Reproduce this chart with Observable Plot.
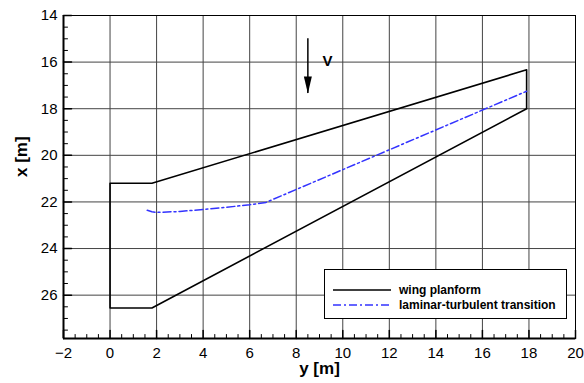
<!DOCTYPE html>
<html>
<head>
<meta charset="utf-8">
<script src="https://cdn.jsdelivr.net/npm/d3@7"></script>
<script src="https://cdn.jsdelivr.net/npm/@observablehq/plot@0.6"></script>
<style>
  html, body { margin: 0; padding: 0; background: #fff; }
  #wrap { position: relative; width: 584px; height: 383px; font-family: "Liberation Sans", Arial, sans-serif; }
  #legend { position: absolute; left: 324px; top: 269px; width: 241px; height: 48px; border: 1px solid #000; background: #fff; box-sizing: content-box; }
  #legend .row { position: absolute; left: 0; height: 14px; display: flex; align-items: center; }
  #legend .row span { font-weight: bold; font-size: 12px; color: #000; margin-left: 8px; white-space: nowrap; }
</style>
</head>
<body>
<div id="wrap"><div id="chart"></div><div id="legend"></div></div>
<script>
// Axis ticks
const xMajor = [-2, 0, 2, 4, 6, 8, 10, 12, 14, 16, 18, 20];
const yMajor = [14, 16, 18, 20, 22, 24, 26];
const xMinor = d3.range(-2, 20.01, 0.5).filter(v => v % 2 !== 0);
const yMinor = d3.range(14, 27.86, 0.5).filter(v => v % 2 !== 0);
const xDomain = [-2, 20];
const yDomain = [14, 27.86];
const xTitle = "y [m]";
const yTitle = "x [m]";

// Wing planform outline (span y [m], chord x [m])
const planformY = [0, 1.8, 17.9, 17.9, 1.8, 0, 0];
const planformX = [21.2, 21.2, 16.33, 18.0, 26.55, 26.55, 21.2];

// Laminar-turbulent transition line
const transY = [1.6, 1.8, 2.0, 3.0, 4.0, 5.0, 6.0, 6.7, 17.9];
const transX = [22.36, 22.42, 22.45, 22.41, 22.32, 22.23, 22.12, 22.02, 17.25];

// Flow direction annotation
const arrowV = [{y: 8.5, x1: 15.0, x2: 17.35}];
const vLabel = [{y: 9.34, x: 15.96, text: "V"}];

// Legend
const legendItems = [
  {label: "wing planform", color: "#000", dash: null},
  {label: "laminar-turbulent transition", color: "#3333ff", dash: "8,3,2,3"}
];

const planform = planformY.map((y, i) => ({y, x: planformX[i]}));
const transition = transY.map((y, i) => ({y, x: transX[i]}));

const tickShape = {draw(context, l) { context.moveTo(0, 0); context.lineTo(0, -l); }};
const headSymbol = {draw(context) { context.moveTo(0, 0); context.lineTo(-4, -17); context.lineTo(4, -17); context.closePath(); }};

const chart = Plot.plot({
  width: 584,
  height: 383,
  marginLeft: 63,
  marginRight: 9,
  marginTop: 15,
  marginBottom: 45,
  x: {domain: xDomain},
  y: {domain: yDomain, reverse: true},
  style: {fontFamily: "'Liberation Sans', Arial, sans-serif", background: "#fff", color: "#000"},
  marks: [
    Plot.gridX(xMajor, {stroke: "#444", strokeOpacity: 1, strokeWidth: 1}),
    Plot.gridY(yMajor, {stroke: "#444", strokeOpacity: 1, strokeWidth: 1}),
    Plot.line(planform, {x: "y", y: "x", stroke: "#000", strokeWidth: 1.6}),
    Plot.line(transition, {x: "y", y: "x", stroke: "#3333ff", strokeWidth: 1.5, strokeDasharray: "8,3,2,3", curve: "linear"}),
    Plot.ruleX(arrowV, {x: "y", y1: "x1", y2: "x2", stroke: "#000", strokeWidth: 1.5}),
    Plot.dot(arrowV, {x: "y", y: "x2", symbol: headSymbol, fill: "#000", stroke: null}),
    Plot.text(vLabel, {x: "y", y: "x", text: "text", fontSize: 15, fontWeight: "bold", fill: "#000"}),
    // minor and major ticks (inward)
    Plot.vector(xMinor, {x: d => d, frameAnchor: "bottom", length: 4, anchor: "start", rotate: 0, shape: tickShape, stroke: "#000", strokeWidth: 1}),
    Plot.vector(xMajor, {x: d => d, frameAnchor: "bottom", length: 8, anchor: "start", rotate: 0, shape: tickShape, stroke: "#000", strokeWidth: 1.5}),
    Plot.vector(yMinor, {y: d => d, frameAnchor: "left", length: 4, anchor: "start", rotate: 90, shape: tickShape, stroke: "#000", strokeWidth: 1}),
    Plot.vector(yMajor, {y: d => d, frameAnchor: "left", length: 8, anchor: "start", rotate: 90, shape: tickShape, stroke: "#000", strokeWidth: 1.5}),
    Plot.frame({stroke: "#000", strokeWidth: 1}),
    Plot.ruleX([xDomain[0]], {stroke: "#000", strokeWidth: 2}),
    Plot.ruleY([yDomain[1]], {stroke: "#000", strokeWidth: 2}),
    Plot.axisX(xMajor, {tickSize: 0, tickPadding: 9, fontSize: 15, label: null}),
    Plot.axisY(yMajor, {tickSize: 0, tickPadding: 6, fontSize: 15, label: null}),
    Plot.text([xTitle], {frameAnchor: "bottom", dy: 35, text: d => d, fontSize: 17, fontWeight: "bold", fill: "#000"}),
    Plot.text([yTitle], {frameAnchor: "left", dx: -42, rotate: -90, text: d => d, fontSize: 17, fontWeight: "bold", fill: "#000"})
  ]
});
document.getElementById("chart").appendChild(chart);

// Legend
const legend = d3.select("#legend");
legendItems.forEach((item, i) => {
  const row = legend.append("div").attr("class", "row").style("top", (13 + i * 14.5) + "px").style("left", "8px");
  const svg = row.append("svg").attr("width", 58).attr("height", 6);
  svg.append("line").attr("x1", 0).attr("x2", 58).attr("y1", 3).attr("y2", 3)
    .attr("stroke", item.color).attr("stroke-width", 1.5).attr("stroke-dasharray", item.dash);
  row.append("span").text(item.label);
});
</script>
</body>
</html>
